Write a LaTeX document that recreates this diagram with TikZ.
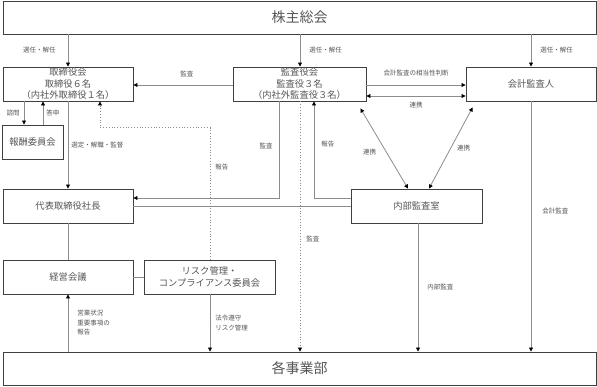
\documentclass[tikz,border=0pt]{standalone}
\usepackage{fontspec}
\setmainfont{Noto Sans CJK JP}
\usepackage{tikz}
\usetikzlibrary{arrows.meta,positioning,calc}
\definecolor{boxgray}{RGB}{64,64,64}
\definecolor{linegray}{RGB}{140,140,140}
\definecolor{textgray}{RGB}{85,85,85}
\tikzset{
  orgbox/.style={
    draw=boxgray,line width=0.9pt,align=center,inner sep=0pt,
    minimum width=130pt,minimum height=34pt,text=textgray,
    font=\fontsize{9.3}{11.5}\selectfont
  },
  widebox/.style={orgbox,minimum width=593pt,minimum height=33pt,
    font=\fontsize{14}{16}\selectfont},
  flowline/.style={draw=linegray,line width=0.8pt},
  flowarrow/.style={flowline,-{Triangle[length=4pt,width=4pt,color=black]}},
  bothflow/.style={flowline,
    {Triangle[length=4pt,width=4pt,color=black]}-{Triangle[length=4pt,width=4pt,color=black]}},
  dotarrow/.style={flowarrow,dotted},
  notetext/.style={font=\fontsize{6.5}{9.5}\selectfont,text=textgray,
    inner sep=0pt,align=left}
}

\begin{document}
\begin{tikzpicture}[x=1pt,y=-1pt]
  \useasboundingbox (0,0) rectangle (597,386);
  % boxes
  \node[widebox] (kabu) at (299.5,17.5) {株主総会};
  \node[orgbox] (torishimari) at (68,84) {取締役会\\取締役６名\\（内社外取締役１名）};
  \node[orgbox,minimum width=133pt] (kansa) at (299.5,84) {監査役会\\監査役３名\\（内社外監査役３名）};
  \node[orgbox] (kaikei) at (531,84) {会計監査人};
  \node[orgbox,minimum width=61pt] (houshu) at (32.5,142) {報酬委員会};
  \node[orgbox] (daihyo) at (68,206) {代表取締役社長};
  \node[orgbox,minimum width=131pt] (naibu) at (416.5,206) {内部監査室};
  \node[orgbox] (keiei) at (68,277) {経営会議};
  \node[orgbox,minimum width=131pt] (risk) at (209.5,277) {リスク管理・\\コンプライアンス委員会};
  \node[widebox] (jigyo) at (299.5,368.5) {各事業部};

  % from the general meeting
  \draw[flowarrow] (torishimari.north |- kabu.south) -- (torishimari.north)
    node[notetext,midway,left=12pt] {選任・解任};
  \draw[flowarrow] ([xshift=0.5pt]kansa.north |- kabu.south) -- ([xshift=0.5pt]kansa.north)
    node[notetext,midway,right=9pt] {選任・解任};
  \draw[flowarrow] (kaikei.north |- kabu.south) -- (kaikei.north)
    node[notetext,midway,right=9pt] {選任・解任};

  % audit board
  \draw[flowarrow] ([yshift=-1pt]kansa.west) -- ([yshift=-1pt]torishimari.east)
    node[notetext,pos=0.46,above=8pt] {監査};
  \draw[flowarrow] ([yshift=-1pt]kansa.east) -- ([yshift=-1pt]kaikei.west)
    node[notetext,midway,above=9pt] {会計監査の相当性判断};
  \draw[bothflow] ([yshift=-12pt]kansa.east) -- ([yshift=-12pt]kaikei.west)
    node[notetext,midway,below=6pt] {連携};
  \draw[flowarrow] ([xshift=-20.5pt]kansa.south) |- ([yshift=8pt]daihyo.east)
    node[notetext,pos=0.23,left=6pt] {監査};
  \draw[dotarrow] ([xshift=0.5pt]kansa.south) -- ([xshift=0.5pt]kansa.south |- jigyo.north)
    node[notetext,pos=0.55,right=6pt] {監査};

  % board and committees
  \draw[flowarrow] ([xshift=-8.5pt]houshu.north |- torishimari.south) -- ([xshift=-8.5pt]houshu.north)
    node[notetext,midway,left=4pt] {諮問};
  \draw[flowarrow] ([xshift=10.5pt]houshu.north) -- ([xshift=10.5pt]houshu.north |- torishimari.south)
    node[notetext,midway,right=3pt] {答申};
  \draw[flowarrow] (torishimari.south) -- (daihyo.north)
    node[notetext,midway,right=3pt] {選定・解職・監督};
  \draw[flowline] (daihyo.south) -- (keiei.north);
  \draw[flowline] (daihyo.east) -- (naibu.west);
  \draw[flowline] (keiei.east) -- (risk.west);
  \draw[flowarrow] (keiei.south |- jigyo.north) -- (keiei.south)
    node[notetext,midway,right=9pt] {営業状況\\重要事項の\\報告};
  \draw[flowarrow] ([xshift=0.5pt]risk.south) -- ([xshift=0.5pt]risk.south |- jigyo.north)
    node[notetext,midway,right=5pt] {法令遵守\\リスク管理};
  \draw[dotarrow] ([xshift=0.5pt]risk.north) -- ++(0,-132)
    node[notetext,pos=0.7,right=5pt] {報告} -| ([xshift=32pt]torishimari.south);

  % internal audit
  \draw[flowarrow] ([yshift=8pt]naibu.west) -| ([xshift=14.5pt]kansa.south)
    node[notetext,pos=0.78,right=7pt] {報告};
  \draw[bothflow] ([xshift=-6pt,yshift=-7pt]kansa.south east) -- ([xshift=-8.5pt]naibu.north)
    node[notetext,pos=0.55,left=10pt] {連携};
  \draw[bothflow] ([xshift=7pt,yshift=-6pt]kaikei.south west) -- ([xshift=12.5pt]naibu.north)
    node[notetext,midway,right=6pt] {連携};
  \draw[flowarrow] ([xshift=1.5pt]naibu.south) -- ([xshift=1.5pt]naibu.south |- jigyo.north)
    node[notetext,midway,right=9pt] {内部監査};
  \draw[flowarrow] (kaikei.south) -- (kaikei.south |- jigyo.north)
    node[notetext,pos=0.44,right=11pt] {会計監査};
\end{tikzpicture}
\end{document}
